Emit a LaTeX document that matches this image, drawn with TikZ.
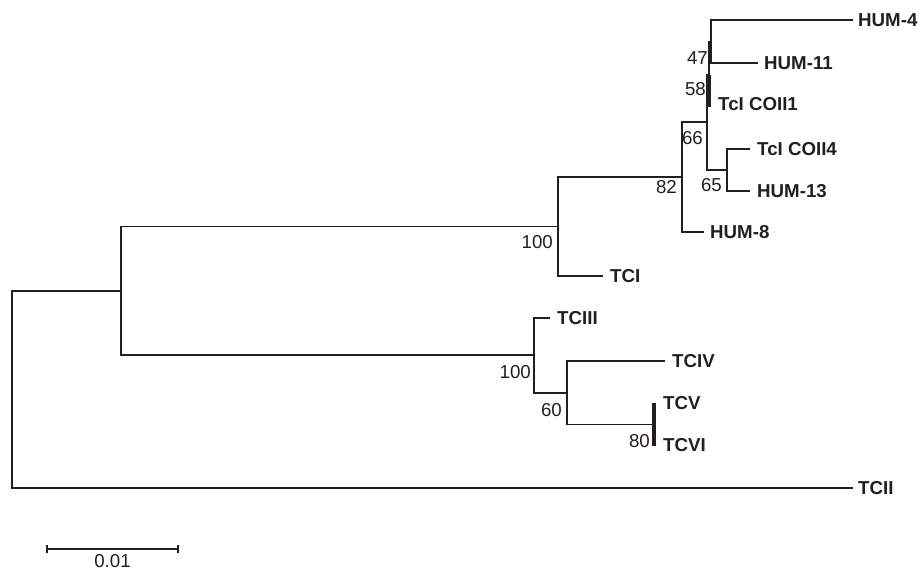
\documentclass[tikz,border=0pt]{standalone}
\usepackage{fontspec}
\setmainfont{Liberation Sans}
\definecolor{ink}{HTML}{231F20}
\begin{document}
\begin{tikzpicture}[x=1pt,y=-1pt,
  branch/.style={draw=ink,line width=1.9pt,line cap=rect},
  heavy/.style={draw=ink,line width=3.4pt},
  taxon/.style={anchor=west,inner sep=0pt,text=ink,font=\fontsize{18.7}{22}\selectfont\bfseries},
  boot/.style={anchor=east,inner sep=0pt,text=ink,font=\fontsize{18.7}{22}\selectfont},
  scalelbl/.style={anchor=north,inner sep=0pt,text=ink,font=\fontsize{18.7}{22}\selectfont}]
\useasboundingbox (0,0) rectangle (921,570);
% internal nodes
\coordinate (root) at (12,389.5);
\coordinate (nA) at (121,291);
\coordinate (n100u) at (558,226.5);
\coordinate (n82) at (682,177);
\coordinate (n66) at (707,122);
\coordinate (n58) at (709,74.5);
\coordinate (n47) at (711,41.5);
\coordinate (n65) at (727,170);
\coordinate (n100l) at (534,355);
\coordinate (n60) at (567,393);
\coordinate (n80) at (654,424.5);
% tips
\coordinate (hum4) at (852,20);
\coordinate (hum11) at (757,63);
\coordinate (coii1) at (709,107);
\coordinate (coii4) at (749,149);
\coordinate (hum13) at (749,191);
\coordinate (hum8) at (703,232);
\coordinate (tci) at (602,276);
\coordinate (tciii) at (549,318);
\coordinate (tciv) at (664,361);
\coordinate (tcv) at (654,403);
\coordinate (tcvi) at (654,446);
\coordinate (tcii) at (852,488);
% branches
\draw[branch] (root) |- (nA);
\draw[branch] (root) |- (tcii);
\draw[branch] (nA) |- (n100u);
\draw[branch] (nA) |- (n100l);
\draw[branch] (n100u) |- (n82);
\draw[branch] (n100u) |- (tci);
\draw[branch] (n82) |- (n66);
\draw[branch] (n82) |- (hum8);
\draw[branch] (n66) |- (n58);
\draw[branch] (n66) |- (n65);
\draw[branch] (n58) |- (n47);
\draw[heavy] (n58) |- (coii1);
\draw[branch] (n47) |- (hum4);
\draw[branch] (n47) |- (hum11);
\draw[branch] (n65) |- (coii4);
\draw[branch] (n65) |- (hum13);
\draw[branch] (n100l) |- (tciii);
\draw[branch] (n100l) |- (n60);
\draw[branch] (n60) |- (tciv);
\draw[branch] (n60) |- (n80);
\draw[heavy] (n80) |- (tcv);
\draw[heavy] (n80) |- (tcvi);
% taxon labels
\node[taxon] (lhum4) at ([shift={(6,0)}]hum4) {HUM-4};
\node[taxon] (lhum11) at ([shift={(7,0)}]hum11) {HUM-11};
\node[taxon] (lcoii1) at ([shift={(9,-3)}]coii1) {TcI COII1};
\node[taxon] (lcoii4) at ([shift={(8,0)}]coii4) {TcI COII4};
\node[taxon] (lhum13) at ([shift={(8,0)}]hum13) {HUM-13};
\node[taxon] (lhum8) at ([shift={(7,0)}]hum8) {HUM-8};
\node[taxon] (ltci) at ([shift={(8,0)}]tci) {TCI};
\node[taxon] (ltciii) at ([shift={(8,0)}]tciii) {TCIII};
\node[taxon] (ltciv) at ([shift={(8,0)}]tciv) {TCIV};
\node[taxon] (ltcv) at ([shift={(9,0)}]tcv) {TCV};
\node[taxon] (ltcvi) at ([shift={(9,-1)}]tcvi) {TCVI};
\node[taxon] (ltcii) at ([shift={(6,0)}]tcii) {TCII};
% bootstrap values
\node[boot] (b47) at ([shift={(-3,16.5)}]n47) {47};
\node[boot] (b58) at ([shift={(-3,14.5)}]n58) {58};
\node[boot] (b66) at ([shift={(-4,16)}]n66) {66};
\node[boot] (b65) at ([shift={(-5,15)}]n65) {65};
\node[boot] (b82) at ([shift={(-5,10)}]n82) {82};
\node[boot] (b100u) at ([shift={(-5,15.5)}]n100u) {100};
\node[boot] (b100l) at ([shift={(-3,17)}]n100l) {100};
\node[boot] (b60) at ([shift={(-5,17)}]n60) {60};
\node[boot] (b80) at ([shift={(-4,16.5)}]n80) {80};
% scale bar
\coordinate (sbL) at (47,549);
\coordinate (sbR) at (178,549);
\draw[branch,line cap=butt] (sbL) -- (sbR);
\draw[draw=ink,line width=2.2pt] ([shift={(0,-4)}]sbL) -- ([shift={(0,4)}]sbL);
\draw[draw=ink,line width=2.2pt] ([shift={(0,-4)}]sbR) -- ([shift={(0,4)}]sbR);
\node[scalelbl] (sblabel) at (112.5,554.5) {0.01};
\end{tikzpicture}
\end{document}
